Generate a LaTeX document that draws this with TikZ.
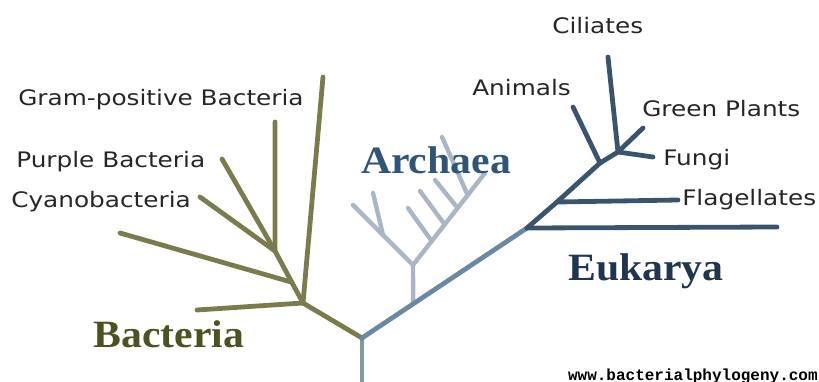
\documentclass[tikz,border=0pt]{standalone}
\usepackage{fontspec}
\usepackage{tikz}
\usetikzlibrary{calc}
\newfontfamily\taxonfont[FakeStretch=1.16]{DejaVu Sans}
\newfontfamily\domainfont[FakeStretch=1.08]{Liberation Serif}
\newfontfamily\quellfont{Liberation Mono}
\definecolor{bakterien}{HTML}{7A7C4E}
\definecolor{bakterientext}{HTML}{4E5122}
\definecolor{archaeen}{HTML}{A9B6C6}
\definecolor{archaeentext}{HTML}{2F5678}
\definecolor{eukaryen}{HTML}{3A5470}
\definecolor{eukaryentext}{HTML}{1F3550}
\definecolor{stamm}{HTML}{6A88A4}
\definecolor{wurzelfarbe}{HTML}{7E9C9C}

\begin{document}
\begin{tikzpicture}[
    x=0.75pt, y=-0.75pt,
    ast/.style={line width=3.6pt, line cap=round},
    taxon/.style={inner sep=0pt, anchor=base west, text=black!85,
      font=\taxonfont\fontsize{16}{16}\selectfont},
    domaene/.style={inner sep=0pt, anchor=base,
      font=\domainfont\bfseries\fontsize{29}{29}\selectfont},
  ]
  \useasboundingbox (0,0) rectangle (819,382);

  % Wurzel und Stamm
  \coordinate (wurzel) at (362,382);
  \coordinate (r) at (362,338);
  \coordinate (e1) at (527,228);
  \coordinate (e2) at (557,202);
  \coordinate (e3) at (600,163);
  \coordinate (e4) at (618,152);

  % Bakterien
  \coordinate (b) at (303,303);
  \coordinate (bn) at (275,251);
  \coordinate (bs) at ($(b)!0.4!(bn)$);
  \coordinate (b1) at (323,77);
  \coordinate (b2) at (197,310);
  \coordinate (b3) at (120,233);
  \coordinate (b4) at (275,122);
  \coordinate (b5) at (222,159);
  \coordinate (b6) at (200,197);

  % Archaeen
  \coordinate (a0) at ($(r)!0.31!(e1)$);
  \coordinate (an) at (413,265);
  \coordinate (al) at (353,205);
  \coordinate (ar) at (485,173);
  \coordinate (al1) at ($(an)!0.5!(al)$);
  \coordinate (al2) at (373,193);
  \coordinate (t1) at ($(an)!0.26!(ar)$);
  \coordinate (t2) at ($(an)!0.44!(ar)$);
  \coordinate (t3) at ($(an)!0.62!(ar)$);
  \coordinate (t4) at ($(an)!0.76!(ar)$);

  \draw[ast, wurzelfarbe] (wurzel) -- (r);
  \draw[ast, bakterien] (r) -- (b) -- (bn) -- (b4);
  \draw[ast, bakterien] (b) -- (b1);
  \draw[ast, bakterien] (b) -- (b2);
  \draw[ast, bakterien] (bs) -- (b3);
  \draw[ast, bakterien] (bn) -- (b5);
  \draw[ast, bakterien] (bn) -- (b6);

  \draw[ast, archaeen, line width=3.3pt] (a0) -- (an) -- (al);
  \draw[ast, archaeen, line width=3.3pt] (an) -- (ar);
  \draw[ast, archaeen, line width=3.3pt] (al1) -- (al2);
  \draw[ast, archaeen, line width=3.3pt] (t1) -- (408,208);
  \draw[ast, archaeen, line width=3.3pt] (t2) -- (420,191);
  \draw[ast, archaeen, line width=3.3pt] (t3) -- (435,180);
  \draw[ast, archaeen, line width=3.3pt] (t4) -- (442,137);

  \draw[ast, stamm] (r) -- (e1);
  \draw[ast, eukaryen] (e1) -- (e2) -- (e3) -- (e4);
  \draw[ast, eukaryen] (e1) -- (777,227);
  \draw[ast, eukaryen] (e2) -- (678,200);
  \draw[ast, eukaryen] (e3) -- (573,107);
  \draw[ast, eukaryen] (e4) -- (608,57);
  \draw[ast, eukaryen] (e4) -- (643,128);
  \draw[ast, eukaryen] (e4) -- (653,157);

  % Beschriftungen
  \node[taxon] (grampos) at (18,105) {Gram-positive Bacteria};
  \node[taxon] (purpur) at (16,167) {Purple Bacteria};
  \node[taxon] (cyano) at (11,207) {Cyanobacteria};
  \node[taxon] (ciliaten) at (552,33) {Ciliates};
  \node[taxon] (tiere) at (472,95) {Animals};
  \node[taxon] (pflanzen) at (642,116) {Green Plants};
  \node[taxon] (pilze) at (663,165) {Fungi};
  \node[taxon] (flagellaten) at (682,205) {Flagellates};

  \node[domaene, bakterientext] (bacteria) at (169,347) {Bacteria};
  \node[domaene, archaeentext] (archaea) at (436,173) {Archaea};
  \node[domaene, eukaryentext] (eukarya) at (646,280) {Eukarya};

  \node[inner sep=0pt, anchor=base east, font=\quellfont\bfseries\fontsize{12}{12}\selectfont]
    (quelle) at (818,380) {www.bacterialphylogeny.com};
\end{tikzpicture}
\end{document}
